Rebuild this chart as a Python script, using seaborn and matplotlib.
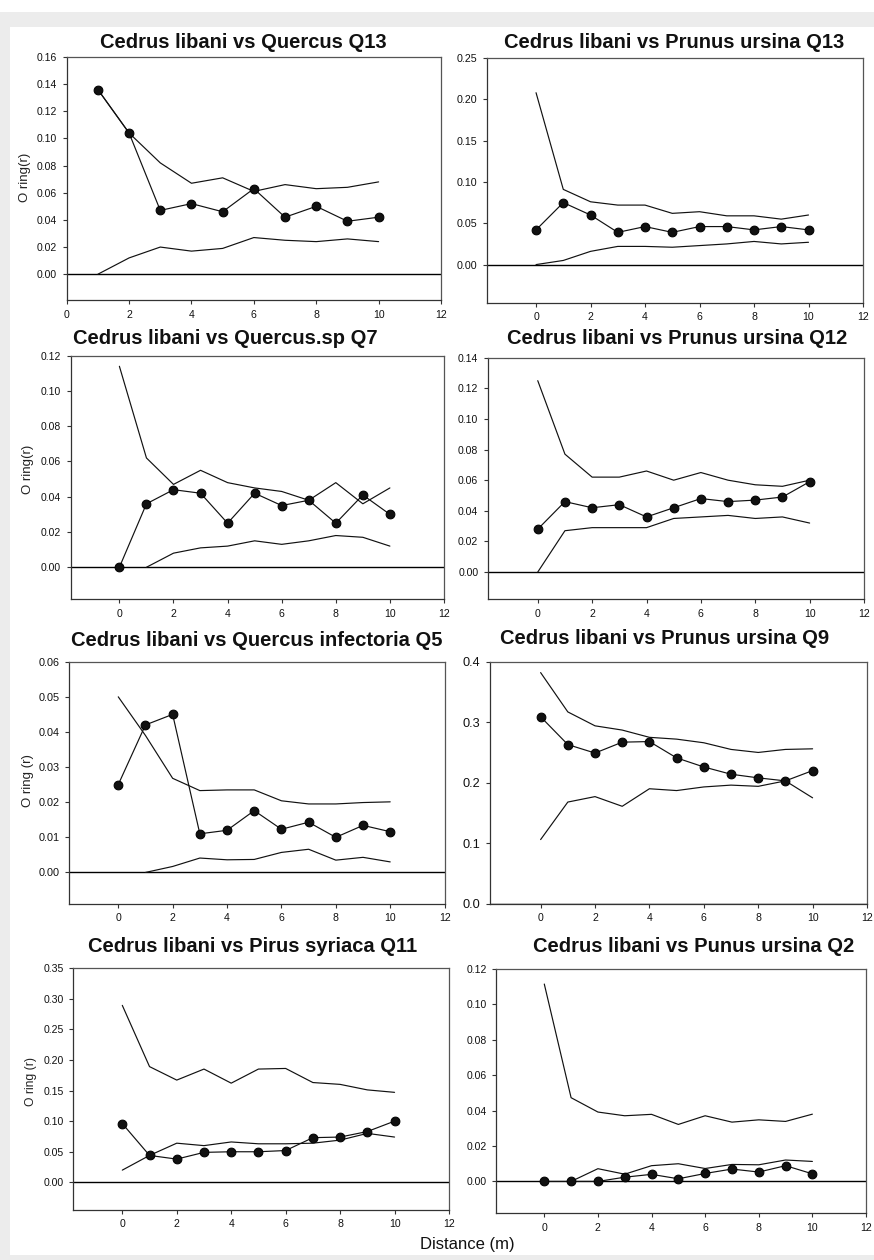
import matplotlib as mpl

mpl.use('Agg')
import matplotlib.pyplot as plt
from matplotlib.patches import Rectangle
from matplotlib.ticker import FormatStrFormatter, MultipleLocator
import seaborn as sns

#### data ####
dist_0 = [0, 1, 2, 3, 4, 5, 6, 7, 8, 9, 10]
dist_1 = [1, 2, 3, 4, 5, 6, 7, 8, 9, 10]

titles = ["Cedrus libani vs Quercus Q13",
          "Cedrus libani vs Prunus ursina Q13",
          "Cedrus libani vs Quercus.sp Q7",
          "Cedrus libani vs Prunus ursina Q12",
          "Cedrus libani vs Quercus infectoria Q5",
          "Cedrus libani vs Prunus ursina Q9",
          "Cedrus libani vs Pirus syriaca Q11",
          "Cedrus libani vs Punus ursina Q2"]

# Quercus Q13
q13_obs = [0.136, 0.104, 0.047, 0.052, 0.046, 0.063, 0.042, 0.050, 0.039, 0.042]
q13_hi = [0.136, 0.104, 0.082, 0.067, 0.071, 0.061, 0.066, 0.063, 0.064, 0.068]
q13_lo = [0.000, 0.012, 0.020, 0.017, 0.019, 0.027, 0.025, 0.024, 0.026, 0.024]

# Prunus ursina Q13
pu13_obs = [0.042, 0.075, 0.060, 0.039, 0.046, 0.039, 0.046, 0.046, 0.042, 0.046, 0.042]
pu13_hi = [0.208, 0.091, 0.076, 0.072, 0.072, 0.062, 0.064, 0.059, 0.059, 0.055, 0.060]
pu13_lo = [0.000, 0.005, 0.016, 0.022, 0.022, 0.021, 0.023, 0.025, 0.028, 0.025, 0.027]

# Quercus.sp Q7
q7_obs = [0.000, 0.036, 0.044, 0.042, 0.025, 0.042, 0.035, 0.038, 0.025, 0.041, 0.030]
q7_hi = [0.114, 0.062, 0.047, 0.055, 0.048, 0.045, 0.043, 0.038, 0.048, 0.036, 0.045]
q7_lo = [0.000, 0.008, 0.011, 0.012, 0.015, 0.013, 0.015, 0.018, 0.017, 0.012]

# Prunus ursina Q12
pu12_obs = [0.028, 0.046, 0.042, 0.044, 0.036, 0.042, 0.048, 0.046, 0.047, 0.049, 0.059]
pu12_hi = [0.125, 0.077, 0.062, 0.062, 0.066, 0.060, 0.065, 0.060, 0.057, 0.056, 0.060]
pu12_lo = [0.000, 0.027, 0.029, 0.029, 0.029, 0.035, 0.036, 0.037, 0.035, 0.036, 0.032]

# Quercus infectoria Q5
q5_obs = [0.025, 0.042, 0.045, 0.011, 0.012, 0.0176, 0.0123, 0.0143, 0.010, 0.0134, 0.0116]
q5_hi = [0.050, 0.039, 0.0268, 0.0233, 0.0235, 0.0235, 0.0204, 0.0195, 0.0195, 0.0199, 0.0201]
q5_lo = [0.000, 0.0017, 0.0041, 0.0036, 0.0037, 0.0057, 0.0066, 0.0035, 0.0043, 0.0030]

# Prunus ursina Q9
pu9_obs = [0.309, 0.263, 0.249, 0.267, 0.268, 0.241, 0.226, 0.214, 0.208, 0.203, 0.220]
pu9_hi = [0.382, 0.317, 0.294, 0.287, 0.275, 0.272, 0.266, 0.255, 0.250, 0.255, 0.256]
pu9_lo = [0.106, 0.168, 0.177, 0.161, 0.190, 0.187, 0.193, 0.196, 0.194, 0.203, 0.175]

# Pirus syriaca Q11
ps11_obs = [0.096, 0.044, 0.038, 0.049, 0.050, 0.050, 0.052, 0.073, 0.074, 0.083, 0.100]
ps11_hi = [0.289, 0.189, 0.167, 0.185, 0.162, 0.185, 0.186, 0.163, 0.160, 0.151, 0.147]
ps11_lo = [0.020, 0.044, 0.064, 0.060, 0.066, 0.063, 0.063, 0.064, 0.069, 0.080, 0.074]

# Punus ursina Q2
pu2_obs = [0.000, 0.000, 0.000, 0.0024, 0.0040, 0.0015, 0.0045, 0.0070, 0.0053, 0.0089, 0.0043]
pu2_hi = [0.1115, 0.0473, 0.0392, 0.0371, 0.0379, 0.0322, 0.0371, 0.0335, 0.0348, 0.0339, 0.0380]
pu2_lo = [0.000, 0.0072, 0.0041, 0.0089, 0.0100, 0.0073, 0.0096, 0.0094, 0.0121, 0.0113]

W, H = 874, 1260

# box = (left, top, right, bottom) in pixels, tpos = title centre
panels = [
    dict(obs=(dist_1, q13_obs), hi=(dist_1, q13_hi), lo=(dist_1, q13_lo),
         box=(66.7, 57, 441, 300), xlim=(0, 12), ylim=(-0.019, 0.16),
         ystep=0.02, fmt='%.2f', tpos=(243, 42), ylab='O ring(r)',
         ylpos=(25, 177), fs=7.5),
    dict(obs=(dist_0, pu13_obs), hi=(dist_0, pu13_hi), lo=(dist_0, pu13_lo),
         box=(487, 58, 863, 302.6), xlim=(-1.8, 12), ylim=(-0.046, 0.25),
         ystep=0.05, fmt='%.2f', tpos=(674, 42), ylab=None, fs=7.7),
    dict(obs=(dist_0, q7_obs), hi=(dist_0, q7_hi), lo=(dist_1, q7_lo),
         box=(70.7, 355.7, 444, 599), xlim=(-1.8, 12), ylim=(-0.018, 0.12),
         ystep=0.02, fmt='%.2f', tpos=(225, 339), ylab='O ring(r)',
         ylpos=(28, 469), fs=7.5),
    dict(obs=(dist_0, pu12_obs), hi=(dist_0, pu12_hi), lo=(dist_0, pu12_lo),
         box=(488, 357.7, 864, 599), xlim=(-1.83, 12), ylim=(-0.0176, 0.14),
         ystep=0.02, fmt='%.2f', tpos=(677, 339), ylab=None, fs=7.6),
    dict(obs=(dist_0, q5_obs), hi=(dist_0, q5_hi), lo=(dist_1, q5_lo),
         box=(69.3, 661.7, 444.6, 903.7), xlim=(-1.8, 12), ylim=(-0.0089, 0.06),
         ystep=0.01, fmt='%.2f', tpos=(257, 640), ylab='O ring (r)',
         ylpos=(28, 781), fs=7.8),
    dict(obs=(dist_0, pu9_obs), hi=(dist_0, pu9_hi), lo=(dist_0, pu9_lo),
         box=(490.3, 661.7, 867, 903.7), xlim=(-1.85, 12), ylim=(0, 0.4),
         ystep=0.1, fmt='%.1f', tpos=(665, 639), ylab=None, fs=9.2),
    dict(obs=(dist_0, ps11_obs), hi=(dist_0, ps11_hi), lo=(dist_0, ps11_lo),
         box=(73.3, 968, 449, 1209.7), xlim=(-1.8, 12), ylim=(-0.0446, 0.35),
         ystep=0.05, fmt='%.2f', tpos=(253, 947), ylab='O ring (r)',
         ylpos=(31, 1082), fs=7.6),
    dict(obs=(dist_0, pu2_obs), hi=(dist_0, pu2_hi), lo=(dist_1, pu2_lo),
         box=(496.3, 969, 866, 1213.3), xlim=(-1.79, 12), ylim=(-0.018, 0.12),
         ystep=0.02, fmt='%.2f', tpos=(694, 947), ylab=None, fs=7.5),
]

sns.set_style('ticks')
plt.rcParams['font.family'] = ['Liberation Sans', 'DejaVu Sans']

fig = plt.figure(figsize=(W / 100, H / 100), dpi=100)
fig.patch.set_facecolor('white')

# light grey frame around the sheet
grey = '#ececec'
for (x0, y0, x1, y1) in [(0, 12, W, 27), (0, 12, 10, H), (0, 1255, W, H)]:
    fig.patches.append(Rectangle((x0 / W, 1 - y1 / H), (x1 - x0) / W,
                                 (y1 - y0) / H, transform=fig.transFigure,
                                 facecolor=grey, edgecolor='none', zorder=0))


def px(x, y):
    return x / W, 1 - y / H


for title, p in zip(titles, panels):
    l, t, r, b = p['box']
    ax = fig.add_axes([l / W, 1 - b / H, (r - l) / W, (b - t) / H])
    ax.set_facecolor('white')

    ax.axhline(0, color='black', lw=1.0, zorder=1)
    for key in ('hi', 'lo'):
        x, y = p[key]
        sns.lineplot(x=x, y=y, ax=ax, color='#111111', lw=0.85, zorder=2)
    x, y = p['obs']
    sns.lineplot(x=x, y=y, ax=ax, color='#111111', lw=0.85, marker='o',
                 markersize=6.3, markeredgecolor='black', zorder=3)

    ax.set_xlim(*p['xlim'])
    ax.set_ylim(*p['ylim'])
    ax.set_xticks(range(0, 13, 2))
    ax.yaxis.set_major_locator(MultipleLocator(p['ystep']))
    ax.yaxis.set_major_formatter(FormatStrFormatter(p['fmt']))
    ax.set_ylim(*p['ylim'])
    ax.set(xlabel='', ylabel='')
    ax.tick_params(direction='out', length=3, width=0.8, colors='#333333',
                   labelcolor='#111111', top=False, right=False)
    ax.tick_params(axis='x', labelsize=7.6, pad=4)
    ax.tick_params(axis='y', labelsize=p['fs'], pad=4)
    for side, sp in ax.spines.items():
        sp.set_visible(True)
        sp.set_linewidth(0.9)
        sp.set_color('#555555' if side in ('top', 'right') else '#333333')

    fig.text(*px(*p['tpos']), title, ha='center', va='center',
             fontsize=14.5, fontweight='bold', color='#111111')
    if p['ylab']:
        fig.text(*px(*p['ylpos']), p['ylab'], rotation=90, ha='center',
                 va='center', fontsize=9.5 if p['ylpos'][1] < 1000 else 8.7,
                 color='#222222')

fig.text(*px(467, 1245), 'Distance (m)', ha='center', va='center',
         fontsize=12, color='#111111')

plt.savefig('out.png', dpi=100)
